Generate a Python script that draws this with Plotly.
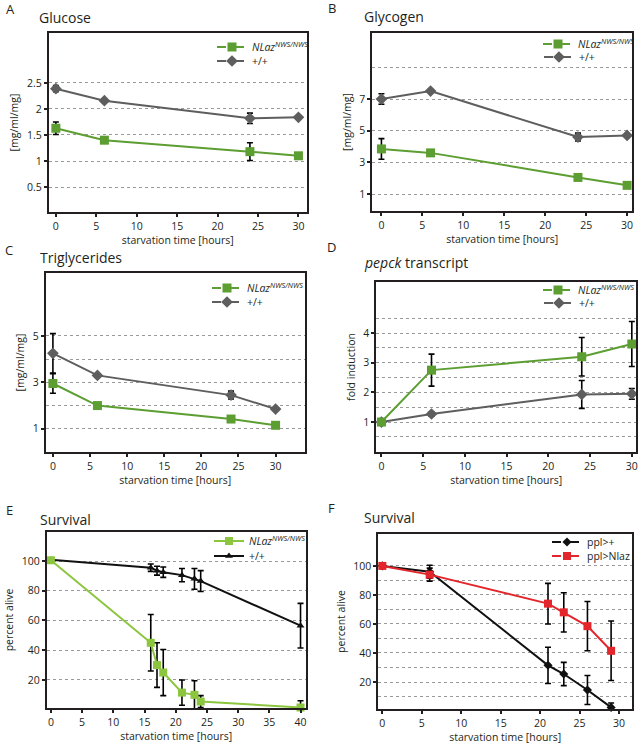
import plotly.graph_objects as go

# ---------------- data ----------------
# Panels A-D share the sampling times
time_abcd = [0, 6, 24, 30]

# A: Glucose [mg/ml/mg]
glucose_nlaz = [1.63, 1.40, 1.18, 1.10]
glucose_nlaz_err = [0.12, 0, 0.17, 0]
glucose_wt = [2.39, 2.16, 1.82, 1.84]
glucose_wt_err = [0.06, 0, 0.10, 0]

# B: Glycogen [mg/ml/mg]
glycogen_nlaz = [3.85, 3.60, 2.05, 1.55]
glycogen_nlaz_err = [0.65, 0, 0.15, 0]
glycogen_wt = [7.00, 7.50, 4.60, 4.70]
glycogen_wt_err = [0.33, 0, 0.25, 0]

# C: Triglycerides [mg/ml/mg]
tg_nlaz = [2.95, 2.00, 1.42, 1.15]
tg_nlaz_err = [0.42, 0, 0, 0]
tg_wt = [4.25, 3.30, 2.45, 1.85]
tg_wt_err = [0.85, 0, 0.17, 0]

# D: pepck transcript (fold induction)
pepck_nlaz = [1.00, 2.75, 3.20, 3.63]
pepck_nlaz_err = [0, 0.54, 0.65, 0.76]
pepck_wt = [1.00, 1.27, 1.93, 1.95]
pepck_wt_err = [0, 0.07, 0.47, 0.18]

# E: Survival (percent alive)
time_e = [0, 16, 17, 18, 21, 23, 24, 40]
surv_e_nlaz = [100.5, 45, 30, 25, 11.5, 10, 5.5, 1.5]
surv_e_nlaz_err = [0, 19, 15, 15.5, 8.5, 9.5, 4, 4.5]
surv_e_wt = [100.8, 95.5, 93.5, 92.5, 90.5, 88, 86.5, 56.5]
surv_e_wt_err = [0, 2.5, 3, 3.5, 4.5, 7, 7, 15]

# F: Survival (percent alive)
time_f = [0, 6, 21, 23, 26, 29]
surv_f_ctrl = [100, 96, 31.5, 25.5, 14.5, 2.5]
surv_f_ctrl_err = [0, 4.5, 12.5, 8, 10, 3]
surv_f_nlaz = [100, 94, 74, 68, 58.5, 41.5]
surv_f_nlaz_err = [0, 4.5, 14, 13.5, 17, 20.5]

# tick labels / grid values
x_ticks_30 = [0, 5, 10, 15, 20, 25, 30]
x_ticks_40 = [0, 5, 10, 15, 20, 25, 30, 35, 40]
y_ticks_a = [0.5, 1, 1.5, 2, 2.5]
y_ticks_b = [1, 3, 5, 7]
y_grid_b = [9]
y_ticks_c = [1, 3, 5]
y_grid_c = [2, 4]
y_ticks_d = [1, 2, 3, 4]
y_grid_d = [0.5, 1.5, 2.5, 3.5, 4.5]
y_ticks_ef = [20, 40, 60, 80, 100]
y_grid_f = [10, 30, 50, 70, 90]

label_nlaz = "<i>NLaz</i><sup><i>NWS/NWS</i></sup>"
label_wt = "+/+"

# ---------------- styling ----------------
W, H = 640, 744
FONT = "Open Sans"
GREEN = "#5c9e31"
GRAY = "#5e5e5e"
LGREEN = "#8cc63f"
RED = "#e3262b"
BLACK = "#111111"


def px_x(p):
    return p / W


def px_y(p):
    return 1 - p / H


fig = go.Figure()
layout = {}
legend_counter = [0]


def add_panel(idx, box, xr, yr, xticks, yticks, ygrid, ytitle, series, legend_rows, xstand=3):
    ax = "" if idx == 1 else str(idx)
    xname, yname = "x" + ax, "y" + ax
    left, top, right, bottom = box
    for s in series:
        fig.add_trace(go.Scatter(
            x=s["x"], y=s["y"], xaxis=xname, yaxis=yname, mode="lines+markers",
            line=dict(color=s["color"], width=2),
            marker=dict(symbol=s["symbol"], size=s["size"], color=s["color"]),
            error_y=dict(type="data", array=s["err"], arrayminus=s["err"], symmetric=False,
                         color="black", thickness=1.6, width=3),
            showlegend=False, name=s["name"], cliponaxis=False))
    for (s, dash, lx, ly) in legend_rows:
        legend_counter[0] += 1
        n = legend_counter[0]
        lname = "legend" if n == 1 else "legend%d" % n
        fig.add_trace(go.Scatter(
            x=[None], y=[None], xaxis=xname, yaxis=yname, mode="lines+markers",
            line=dict(color=s["color"], width=2, dash=dash),
            marker=dict(symbol=s["symbol"], size=s["size"], color=s["color"]),
            name=s["name"], legend=lname, showlegend=True))
        layout[lname] = dict(x=px_x(lx), y=px_y(ly), xanchor="left", yanchor="middle",
                             bgcolor="rgba(0,0,0,0)", borderwidth=0,
                             font=dict(family=FONT, size=10.5, color="#231f20"),
                             itemwidth=30)
    axis_common = dict(showline=True, mirror=True, linecolor="#231f20", linewidth=2,
                       ticks="outside", ticklen=3, tickwidth=1.5, tickcolor="#231f20",
                       tickfont=dict(family=FONT, size=10.5, color="#231f20"),
                       zeroline=False)
    layout["xaxis" + ax] = dict(
        domain=[px_x(left), px_x(right)], anchor=yname, range=xr,
        tickvals=xticks, showgrid=False,
        title=dict(text="starvation time [hours]", font=dict(family=FONT, size=10.5, color="#231f20"),
                   standoff=xstand),
        **axis_common)
    ydict = dict(
        domain=[px_y(bottom), px_y(top)], anchor=xname, range=yr,
        tickvals=yticks, showgrid=True, gridcolor="#9a9a9a", griddash="dot", gridwidth=1,
        title=dict(text=ytitle, font=dict(family=FONT, size=10.5, color="#231f20"), standoff=6),
        **axis_common)
    if ygrid:
        ydict["minor"] = dict(tickvals=ygrid, showgrid=True, gridcolor="#9a9a9a",
                              griddash="dot", gridwidth=1, ticklen=0)
    layout["yaxis" + ax] = ydict


def ser(x, y, err, color, symbol, size, name):
    return dict(x=x, y=y, err=err, color=color, symbol=symbol, size=size, name=name)


# A
a_n = ser(time_abcd, glucose_nlaz, glucose_nlaz_err, GREEN, "square", 9, label_nlaz)
a_w = ser(time_abcd, glucose_wt, glucose_wt_err, GRAY, "diamond", 9, label_wt)
add_panel(1, (49, 33, 307, 212), [-0.86, 31.0], [0.02, 3.46], x_ticks_30, y_ticks_a, None,
          "[mg/ml/mg]", [a_w, a_n],
          [(a_n, "dash", 212, 47), (a_w, "dash", 212, 61)])
# B
b_n = ser(time_abcd, glycogen_nlaz, glycogen_nlaz_err, GREEN, "square", 9, label_nlaz)
b_w = ser(time_abcd, glycogen_wt, glycogen_wt_err, GRAY, "diamond", 9, label_wt)
add_panel(2, (373, 33, 633, 211), [-1.1, 30.6], [-0.07, 11.17], x_ticks_30, y_ticks_b, y_grid_b,
          "[mg/ml/mg]", [b_w, b_n],
          [(b_n, "dash", 539, 44), (b_w, "dash", 539, 57)])
# C
c_n = ser(time_abcd, tg_nlaz, tg_nlaz_err, GREEN, "square", 9, label_nlaz)
c_w = ser(time_abcd, tg_wt, tg_wt_err, GRAY, "diamond", 9, label_wt)
add_panel(3, (46, 273, 305, 452), [-0.94, 33.9], [0.0, 7.71], x_ticks_30, y_ticks_c, y_grid_c,
          "[mg/ml/mg]", [c_w, c_n],
          [(c_n, "dash", 207, 288), (c_w, "dash", 207, 302)])
# D
d_n = ser(time_abcd, pepck_nlaz, pepck_nlaz_err, GREEN, "square", 9, label_nlaz)
d_w = ser(time_abcd, pepck_wt, pepck_wt_err, GRAY, "diamond", 9, label_wt)
add_panel(4, (377, 282, 637, 452), [-0.6, 30.5], [-0.01, 5.72], x_ticks_30, y_ticks_d, y_grid_d,
          "fold induction", [d_w, d_n],
          [(d_n, "dash", 539, 290), (d_w, "dash", 539, 303)])
# E
e_n = ser(time_e, surv_e_nlaz, surv_e_nlaz_err, LGREEN, "square", 8, label_nlaz)
e_w = ser(time_e, surv_e_wt, surv_e_wt_err, BLACK, "triangle-up", 7, label_wt)
add_panel(5, (47, 532, 306, 708), [-0.64, 40.8], [1.15, 119.5], x_ticks_40, y_ticks_ef, None,
          "percent alive", [e_w, e_n],
          [(e_n, "solid", 209, 541), (e_w, "solid", 209, 556)], xstand=5)
# F
f_c = ser(time_f, surv_f_ctrl, surv_f_ctrl_err, BLACK, "diamond", 7, "ppl&gt;+")
f_n = ser(time_f, surv_f_nlaz, surv_f_nlaz_err, RED, "square", 8, "ppl&gt;Nlaz")
add_panel(6, (379, 534, 633, 709), [-0.5, 31.65], [1.4, 122], x_ticks_30, y_ticks_ef, y_grid_f,
          "percent alive", [f_c, f_n],
          [(f_c, "dash", 547, 542), (f_n, "dash", 547, 556)], xstand=5)

# panel letters and titles
annots = []
for letter, lx, ly in [("A", 4, 9), ("B", 327, 8), ("C", 3, 250), ("D", 326, 247),
                       ("E", 4, 510), ("F", 327, 508)]:
    annots.append(dict(text=letter, x=px_x(lx), y=px_y(ly), xref="paper", yref="paper",
                       xanchor="left", yanchor="middle", showarrow=False,
                       font=dict(family=FONT, size=13, color="#231f20")))
for title, lx, ly in [("Glucose", 37, 18), ("Glycogen", 363, 17), ("Triglycerides", 38, 257),
                      ("<i>pepck</i> transcript", 363, 262), ("Survival", 38, 519),
                      ("Survival", 363, 517)]:
    annots.append(dict(text=title, x=px_x(lx), y=px_y(ly), xref="paper", yref="paper",
                       xanchor="left", yanchor="middle", showarrow=False,
                       font=dict(family=FONT, size=14, color="#231f20")))

fig.update_layout(
    width=W, height=H, margin=dict(l=0, r=0, t=0, b=0),
    paper_bgcolor="white", plot_bgcolor="white",
    font=dict(family=FONT, color="#231f20"),
    annotations=annots, **layout)

fig.write_html("out.html", config={"displayModeBar": False},
               post_script="document.body.style.margin='0';document.body.style.overflow='hidden';")
